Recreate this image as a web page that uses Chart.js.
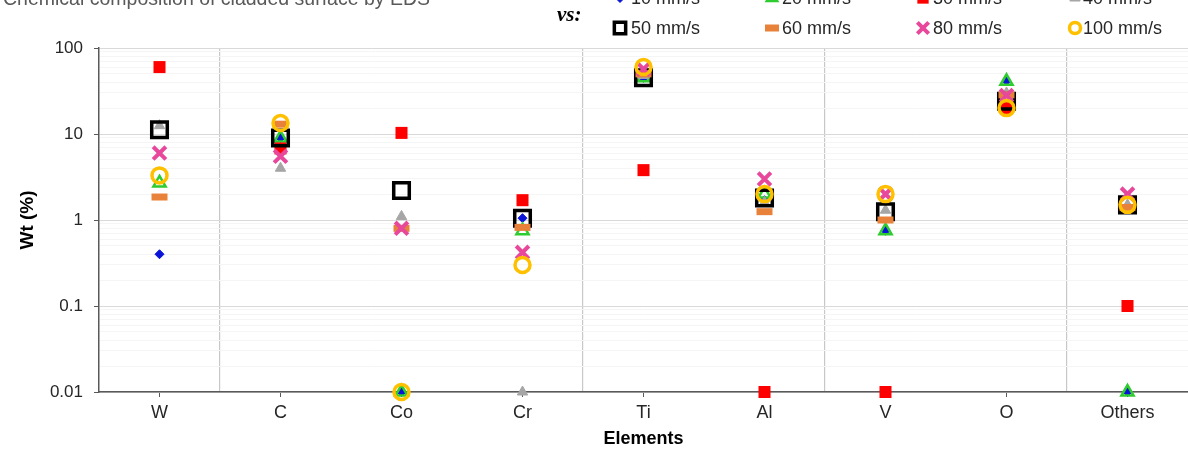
<!DOCTYPE html>
<html>
<head>
<meta charset="utf-8">
<script src="https://cdn.jsdelivr.net/npm/chart.js@4.4.1/dist/chart.umd.min.js"></script>
<style>
  html, body { margin: 0; padding: 0; background: #ffffff; overflow: hidden; }
  #wrap { position: relative; width: 1188px; height: 450px; }
</style>
</head>
<body>
<div id="wrap"><canvas id="chart" width="1188" height="450"></canvas></div>
<script>
// Element categories on the x axis
const elements = ['W', 'C', 'Co', 'Cr', 'Ti', 'Al', 'V', 'O', 'Others'];

// Scanning speeds (series names)
const speedLabels = ['10 mm/s', '20 mm/s', '30 mm/s', '40 mm/s', '50 mm/s', '60 mm/s', '80 mm/s', '100 mm/s'];

// Weight percent per element for each scanning speed (0.01 = not detected)
const wt10  = [0.4,  9.0,  0.01, 1.05, 45,  1.7,  0.75, 41,   0.01];
const wt20  = [2.7,  9.0,  0.01, 0.75, 45,  2.0,  0.75, 41,   0.01];
const wt30  = [60,   6.8,  10.3, 1.7,  3.8, 0.01, 0.01, 20,   0.1];
const wt40  = [12.5, 4.0,  1.1,  0.01, 48,  1.6,  1.3,  30,   1.5];
const wt50  = [11.2, 9.0,  2.2,  1.05, 45,  1.8,  1.25, 24,   1.5];
const wt60  = [1.85, 13,   0.8,  0.82, 50,  1.25, 1.0,  28.5, 1.4];
const wt80  = [6.0,  5.5,  0.8,  0.42, 57,  3.0,  2.0,  28,   2.0];
const wt100 = [3.3,  13.4, 0.01, 0.30, 60,  2.0,  2.0,  20,   1.5];

// Labelled y ticks (log axis)
const yTickValues = [0.01, 0.1, 1, 10, 100];
const yTickLabels = ['0.01', '0.1', '1', '10', '100'];

const chartTitle = 'Chemical composition of cladded surface by EDS';
const FONT = '"Liberation Sans", Arial, Helvetica, sans-serif';

// Marker appearance per series
const markerStyles = [
  { pointStyle: 'rectRot',  radius: 4.5, legendRadius: 4.5, fill: '#0a14d8', stroke: '#0a14d8', width: 1 },
  { pointStyle: 'triangle', radius: 7,   legendRadius: 6,   fill: 'rgba(0,0,0,0)', stroke: '#2ecc2e', width: 2.5 },
  { pointStyle: 'rect',     radius: 8.5, legendRadius: 8,   fill: '#ff0000', stroke: '#ff0000', width: 0 },
  { pointStyle: 'triangle', radius: 6,   legendRadius: 6,   fill: '#a6a6a6', stroke: '#a6a6a6', width: 1 },
  { pointStyle: 'rect',     radius: 11,  legendRadius: 8,   fill: 'rgba(0,0,0,0)', stroke: '#000000', width: 3.5 },
  { pointStyle: 'line',     radius: 8,   legendRadius: 7,   fill: 'rgba(0,0,0,0)', stroke: '#e8823a', width: 7 },
  { pointStyle: 'crossRot', radius: 9,   legendRadius: 8,   fill: 'rgba(0,0,0,0)', stroke: '#e8489b', width: 4 },
  { pointStyle: 'circle',   radius: 7.5, legendRadius: 5.5, fill: 'rgba(0,0,0,0)', stroke: '#ffc000', width: 3.5 }
];
const seriesValues = [wt10, wt20, wt30, wt40, wt50, wt60, wt80, wt100];

// Later series are painted over earlier ones (lower order = drawn last)
const datasets = seriesValues.map((vals, i) => {
  const m = markerStyles[i];
  return {
    label: speedLabels[i],
    data: vals,
    order: seriesValues.length - i,
    showLine: false,
    clip: false,
    pointStyle: m.pointStyle,
    pointRadius: m.radius,
    pointHoverRadius: m.radius,
    pointBackgroundColor: m.fill,
    pointBorderColor: m.stroke,
    pointBorderWidth: m.width,
    pointHoverBorderWidth: m.width
  };
});

// Grid positions for the log axis: every 1..9 multiple of each decade
const yGridValues = [];
for (let e = -2; e < 2; e++) {
  for (let k = 1; k <= 9; k++) yGridValues.push(k * Math.pow(10, e));
}
yGridValues.push(100);

function isMajor(v) {
  const l = Math.log10(v);
  return Math.abs(l - Math.round(l)) < 1e-6;
}
function labelFor(v) {
  for (let i = 0; i < yTickValues.length; i++) {
    if (Math.abs(Math.log10(v) - Math.log10(yTickValues[i])) < 1e-6) return yTickLabels[i];
  }
  return '';
}

// Group separators between element groups
const separatorIndices = [1, 4, 6, 8];

// Title, "vs:" caption and the two-row legend at the top
const headerPlugin = {
  id: 'header',
  afterDraw(chart) {
    const ctx = chart.ctx;
    ctx.save();
    ctx.textBaseline = 'alphabetic';
    ctx.textAlign = 'left';
    ctx.fillStyle = '#595959';
    ctx.font = '19.5px ' + FONT;
    ctx.fillText(chartTitle, 3, 5);

    ctx.fillStyle = '#000000';
    ctx.font = 'italic bold 21px "Liberation Serif", "Times New Roman", serif';
    ctx.fillText('vs:', 557, 21);

    const markerX = [620, 772, 923, 1075];
    const textX = [631, 782, 933, 1083];
    const baseY = [4, 34];
    ctx.font = '18px ' + FONT;
    chart.data.datasets.forEach((ds, i) => {
      const col = i % 4, row = Math.floor(i / 4);
      const m = markerStyles[i];
      ctx.save();
      ctx.fillStyle = m.fill;
      ctx.strokeStyle = m.stroke;
      ctx.lineWidth = m.width;
      Chart.helpers.drawPoint(ctx, {
        pointStyle: m.pointStyle,
        radius: m.legendRadius,
        rotation: 0,
        borderWidth: m.width
      }, markerX[col], baseY[row] - 6);
      ctx.restore();
      ctx.fillStyle = '#262626';
      ctx.fillText(ds.label, textX[col], baseY[row]);
    });
    ctx.restore();
  }
};

new Chart(document.getElementById('chart'), {
  type: 'line',
  data: { labels: elements, datasets },
  plugins: [headerPlugin],
  options: {
    responsive: false,
    animation: false,
    devicePixelRatio: 1,
    layout: { autoPadding: false, padding: { top: 48, right: 0, bottom: 0, left: 0 } },
    plugins: {
      legend: { display: false },
      title: { display: false },
      tooltip: { enabled: false }
    },
    scales: {
      x: {
        type: 'category',
        position: 'bottom',
        offset: true,
        grid: {
          display: true,
          drawOnChartArea: false,
          drawTicks: true,
          tickLength: 5,
          tickColor: '#595959',
          offset: false
        },
        border: { display: true, color: '#595959', width: 1.5 },
        ticks: {
          color: '#262626',
          font: { family: FONT, size: 18 },
          padding: 5,
          autoSkip: false,
          maxRotation: 0
        },
        title: {
          display: true,
          text: 'Elements',
          color: '#000000',
          font: { family: FONT, size: 18, weight: 'bold' },
          padding: { top: 0, bottom: 0 }
        },
        afterFit(scale) {
          scale.height = 58;
          scale.paddingLeft = 0;
          scale.paddingRight = 0;
        }
      },
      xGroups: {
        type: 'category',
        position: 'top',
        offset: true,
        labels: elements,
        grid: {
          display: true,
          drawTicks: false,
          offset: true,
          lineWidth: 1.2,
          color: (c) => separatorIndices.includes(c.index) ? '#c8c8c8' : 'rgba(0,0,0,0)'
        },
        border: { display: false },
        ticks: { display: false },
        afterFit(scale) {
          scale.height = 0;
          scale.paddingLeft = 0;
          scale.paddingRight = 0;
        }
      },
      y: {
        type: 'logarithmic',
        position: 'left',
        min: 0.01,
        max: 100,
        afterBuildTicks(scale) {
          scale.ticks = yGridValues.map(v => ({ value: v }));
        },
        grid: {
          color: (c) => (c.tick && isMajor(c.tick.value)) ? '#d9d9d9' : '#f5f5f5',
          tickColor: (c) => (c.tick && isMajor(c.tick.value)) ? '#595959' : 'rgba(0,0,0,0)',
          tickLength: 5,
          lineWidth: 1
        },
        border: { display: true, color: '#595959', width: 1.5 },
        ticks: {
          autoSkip: false,
          color: '#262626',
          font: { family: FONT, size: 17 },
          padding: 11,
          callback: (v) => labelFor(v)
        },
        title: {
          display: true,
          text: 'Wt (%)',
          color: '#000000',
          font: { family: FONT, size: 19, weight: 'bold' },
          padding: { top: 16, bottom: 0 }
        },
        afterFit(scale) { scale.width = 99; }
      }
    }
  }
});
</script>
</body>
</html>
